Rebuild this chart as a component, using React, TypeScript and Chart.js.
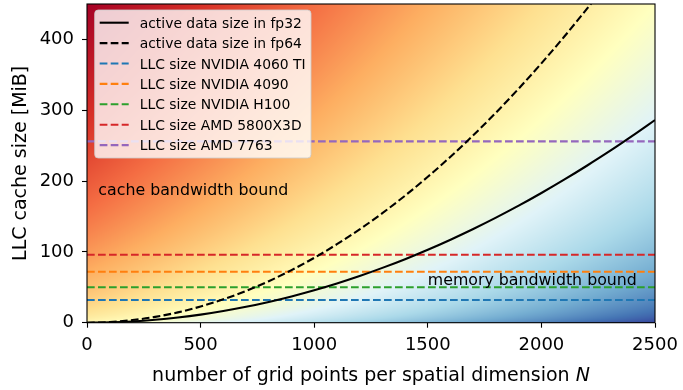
import React, { useEffect, useRef } from 'react';
import { Chart, registerables } from 'chart.js';

Chart.register(...registerables);

// ---- data ----
const gridPoints = [0, 100, 200, 300, 400, 500, 600, 700, 800, 900, 1000, 1100, 1200, 1300, 1400, 1500, 1600, 1700, 1800, 1900, 2000, 2100, 2200, 2300, 2400, 2500];
const fp32Sizes = [0, 0.46, 1.8, 4.1, 7.3, 11.4, 16.5, 22.4, 29.3, 37.1, 45.8, 55.4, 65.9, 77.4, 89.7, 103.0, 117.2, 132.3, 148.3, 165.2, 183.1, 201.9, 221.6, 242.1, 263.7, 286.1];
const fp64Sizes = [0, 0.92, 3.7, 8.2, 14.6, 22.9, 33.0, 44.9, 58.6, 74.2, 91.6, 110.8, 131.8, 154.7, 179.4, 206.0, 234.4, 264.6, 296.6, 330.5, 366.2, 403.7, 443.1, 484.2, 527.3, 572.2];

const llcLabels = ['LLC size NVIDIA 4060 TI', 'LLC size NVIDIA 4090', 'LLC size NVIDIA H100', 'LLC size AMD 5800X3D', 'LLC size AMD 7763'];
const llcSizes = [32, 72, 50, 96, 256];
const llcColors = ['#1f77b4', '#ff7f0e', '#2ca02c', '#d62728', '#9467bd'];

const xTicks = [0, 500, 1000, 1500, 2000, 2500];
const yTicks = [0, 100, 200, 300, 400];
const xLimits = [0, 2500];
const yLimits = [0, 450];

const regionLabels = ['cache bandwidth bound', 'memory bandwidth bound'];
const regionLabelX = [50, 1500];
const regionLabelY = [180, 53];

const FONT = "'DejaVu Sans', sans-serif";

// RdYlBu_r colour map stops
const cmapStops = ['#313695', '#4575b4', '#74add1', '#abd9e9', '#e0f3f8', '#ffffbf', '#fee090', '#fdae61', '#f46d43', '#d73027', '#a50026'];
const cmapRgb = cmapStops.map((h) => [parseInt(h.slice(1, 3), 16), parseInt(h.slice(3, 5), 16), parseInt(h.slice(5, 7), 16)]);
function cmap(t: number) {
  const c = Math.max(0, Math.min(1, t)) * (cmapRgb.length - 1);
  const i = Math.min(cmapRgb.length - 2, Math.floor(c));
  const f = c - i;
  const a = cmapRgb[i], b = cmapRgb[i + 1];
  return [a[0] + (b[0] - a[0]) * f, a[1] + (b[1] - a[1]) * f, a[2] + (b[2] - a[2]) * f];
}

const backgroundPlugin = {
  id: 'bgGradient',
  beforeDatasetsDraw(chart: any) {
    const { ctx, chartArea, scales } = chart;
    const w = Math.round(chartArea.right - chartArea.left);
    const h = Math.round(chartArea.bottom - chartArea.top);
    const off = document.createElement('canvas');
    off.width = w; off.height = h;
    const octx = off.getContext('2d')!;
    const img = octx.createImageData(w, h);
    for (let py = 0; py < h; py++) {
      const yv = Math.max(0, scales.y.getValueForPixel(chartArea.top + py + 0.5));
      for (let px = 0; px < w; px++) {
        const xv = scales.x.getValueForPixel(chartArea.left + px + 0.5);
        const t = 0.5 + 0.5 * (Math.sqrt(yv / yLimits[1]) - xv / xLimits[1]);
        const c = cmap(t);
        const k = (py * w + px) * 4;
        img.data[k] = c[0]; img.data[k + 1] = c[1]; img.data[k + 2] = c[2]; img.data[k + 3] = 255;
      }
    }
    octx.putImageData(img, 0, 0);
    ctx.save();
    ctx.drawImage(off, chartArea.left, chartArea.top);
    ctx.restore();
  },
};

const overlayPlugin = {
  id: 'overlay',
  afterDraw(chart: any) {
    const { ctx, chartArea, scales } = chart;
    ctx.save();
    // frame
    ctx.strokeStyle = '#000';
    ctx.lineWidth = 1.1;
    ctx.strokeRect(chartArea.left, chartArea.top, chartArea.right - chartArea.left, chartArea.bottom - chartArea.top);

    // region labels
    ctx.fillStyle = '#000';
    ctx.font = `15.8px ${FONT}`;
    ctx.textAlign = 'left';
    ctx.textBaseline = 'alphabetic';
    regionLabels.forEach((txt, i) => {
      ctx.fillText(txt, scales.x.getPixelForValue(regionLabelX[i]), scales.y.getPixelForValue(regionLabelY[i]));
    });

    // legend
    const lx = 94.7, ly = 10, lw = 216.3, lh = 148, r = 3.5;
    ctx.beginPath();
    ctx.moveTo(lx + r, ly);
    ctx.arcTo(lx + lw, ly, lx + lw, ly + lh, r);
    ctx.arcTo(lx + lw, ly + lh, lx, ly + lh, r);
    ctx.arcTo(lx, ly + lh, lx, ly, r);
    ctx.arcTo(lx, ly, lx + lw, ly, r);
    ctx.closePath();
    ctx.fillStyle = 'rgba(255,255,255,0.8)';
    ctx.fill();
    ctx.strokeStyle = 'rgba(204,204,204,0.8)';
    ctx.lineWidth = 1;
    ctx.stroke();
    ctx.font = `13.9px ${FONT}`;
    chart.data.datasets.forEach((ds: any, i: number) => {
      const cy = 22.7 + i * 20.4;
      ctx.beginPath();
      ctx.setLineDash(ds.borderDash || []);
      ctx.strokeStyle = ds.borderColor;
      ctx.lineWidth = ds.borderWidth;
      ctx.moveTo(99.7, cy);
      ctx.lineTo(128.7, cy);
      ctx.stroke();
      ctx.setLineDash([]);
      ctx.fillStyle = '#000';
      ctx.fillText(ds.label, 139.7, cy + 5.1);
    });

    // axis titles
    ctx.fillStyle = '#000';
    const titleSize = 19;
    const part1 = 'number of grid points per spatial dimension ';
    const part2 = 'N';
    ctx.font = `${titleSize}px ${FONT}`;
    const w1 = ctx.measureText(part1).width;
    ctx.font = `oblique ${titleSize}px ${FONT}`;
    const w2 = ctx.measureText(part2).width;
    const cx = (chartArea.left + chartArea.right) / 2;
    const startX = cx - (w1 + w2) / 2;
    ctx.textAlign = 'left';
    ctx.font = `${titleSize}px ${FONT}`;
    ctx.fillText(part1, startX, 380.5);
    ctx.font = `oblique ${titleSize}px ${FONT}`;
    ctx.fillText(part2, startX + w1, 380.5);

    ctx.font = `${titleSize}px ${FONT}`;
    ctx.translate(26, (chartArea.top + chartArea.bottom) / 2);
    ctx.rotate(-Math.PI / 2);
    ctx.textAlign = 'center';
    ctx.fillText('LLC cache size [MiB]', 0, 0);
    ctx.restore();
  },
};

function zeroPadding(s: any) {
  s.paddingTop = 0; s.paddingBottom = 0; s.paddingLeft = 0; s.paddingRight = 0;
}

export default function App() {
  const canvasRef = useRef<HTMLCanvasElement | null>(null);

  useEffect(() => {
    document.body.style.margin = '0';
    const canvas = canvasRef.current!;
    const datasets: any[] = [
      {
        label: 'active data size in fp32',
        data: gridPoints.map((n, i) => ({ x: n, y: fp32Sizes[i] })),
        borderColor: '#000000',
        borderWidth: 2.1,
        pointRadius: 0,
        cubicInterpolationMode: 'monotone',
        fill: false,
        order: 1,
      },
      {
        label: 'active data size in fp64',
        data: gridPoints.map((n, i) => ({ x: n, y: fp64Sizes[i] })),
        borderColor: '#000000',
        borderWidth: 2.1,
        borderDash: [7.7, 3.3],
        pointRadius: 0,
        cubicInterpolationMode: 'monotone',
        fill: false,
        order: 2,
      },
      ...llcLabels.map((lab, i) => ({
        label: lab,
        data: [{ x: xLimits[0], y: llcSizes[i] }, { x: xLimits[1], y: llcSizes[i] }],
        borderColor: llcColors[i],
        borderWidth: 2.1,
        borderDash: [7.7, 3.3],
        pointRadius: 0,
        fill: false,
        order: 3 + i,
      })),
    ];

    const chart = new Chart(canvas, {
      type: 'line',
      data: { datasets },
      options: {
        responsive: false,
        animation: false,
        events: [],
        layout: { padding: { top: 4, right: 28, bottom: 0, left: 0 } },
        plugins: { legend: { display: false }, tooltip: { enabled: false } },
        scales: {
          x: {
            type: 'linear',
            min: xLimits[0],
            max: xLimits[1],
            afterBuildTicks: (s: any) => { s.ticks = xTicks.map((v) => ({ value: v })); },
            afterFit: (s: any) => { s.height = 67.3; zeroPadding(s); },
            ticks: { color: '#000', font: { family: FONT, size: 18 }, padding: 7, maxRotation: 0, autoSkip: false, callback: (v: any) => String(v) },
            grid: { display: true, drawOnChartArea: false, drawTicks: true, tickLength: 5, tickColor: '#000', tickWidth: 1.1 },
            border: { display: false },
          },
          y: {
            type: 'linear',
            min: yLimits[0],
            max: yLimits[1],
            afterBuildTicks: (s: any) => { s.ticks = yTicks.map((v) => ({ value: v })); },
            afterFit: (s: any) => { s.width = 87; zeroPadding(s); },
            ticks: { color: '#000', font: { family: FONT, size: 18 }, padding: 8, autoSkip: false, callback: (v: any) => String(v) },
            grid: { display: true, drawOnChartArea: false, drawTicks: true, tickLength: 5, tickColor: '#000', tickWidth: 1.1 },
            border: { display: false },
          },
        },
      },
      plugins: [backgroundPlugin, overlayPlugin],
    });
    return () => chart.destroy();
  }, []);

  return (
    <div style={{ position: 'absolute', left: 0, top: 0, width: 683, height: 390 }}>
      <canvas ref={canvasRef} width={683} height={390} style={{ display: 'block', width: 683, height: 390 }} />
    </div>
  );
}
